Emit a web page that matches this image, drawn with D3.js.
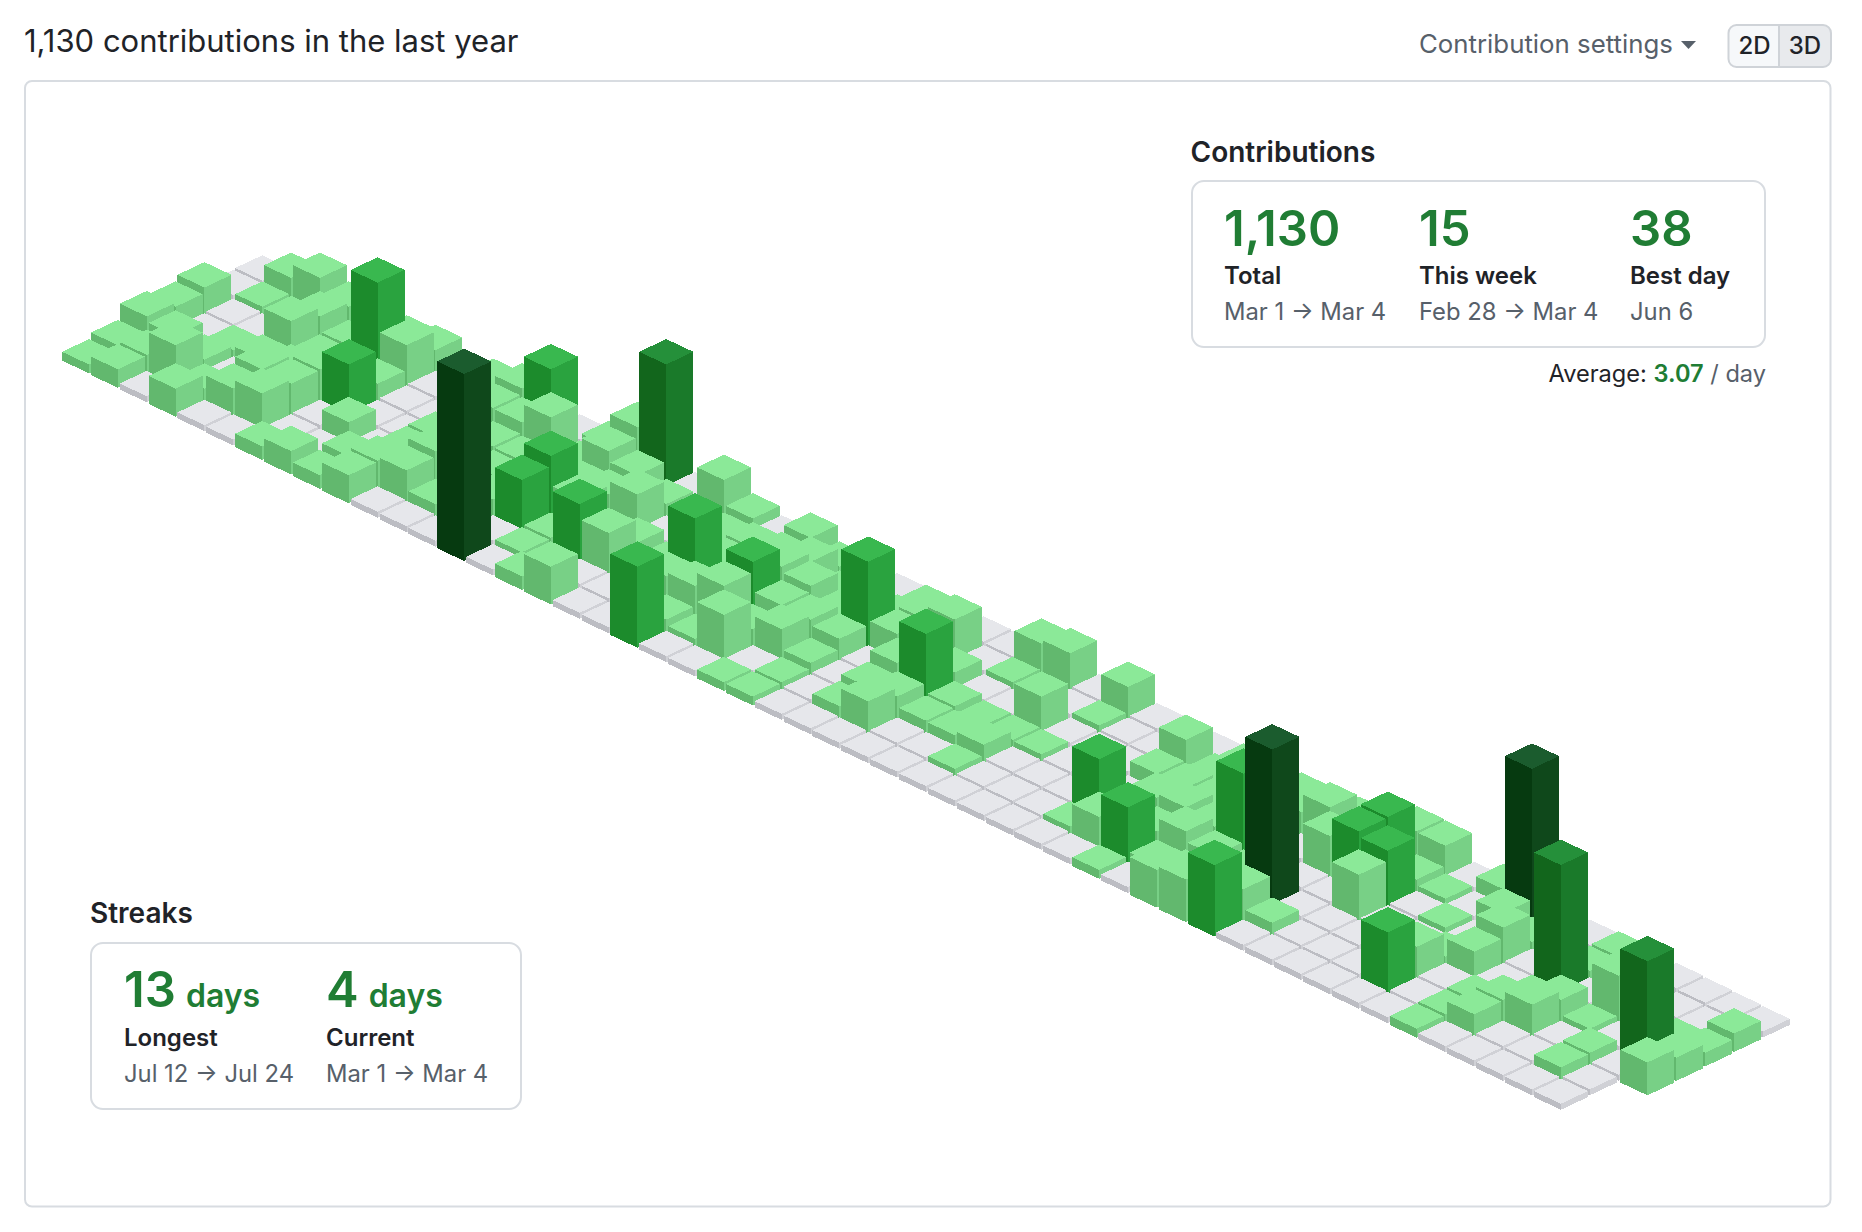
<!DOCTYPE html>
<html>
<head>
<meta charset="utf-8">
<script src="https://cdn.jsdelivr.net/npm/d3@7/dist/d3.min.js"></script>
<style>
html,body{margin:0;padding:0;background:#fff;}
svg{display:block;}
text{font-family:Inter,"Noto Sans",sans-serif;}
</style>
</head>
<body>
<div id="chart"></div>
<script>
// contributions per day: one row per week, Sun..Sat, week of Mar 1 2020 first
const contributionsByWeek = [
 [0,0,5,4,5,2,1],[4,1,0,0,4,3,3],[7,1,0,1,2,8,0],[4,5,7,2,0,2,5],[2,2,2,3,6,5,0],
 [3,18,3,6,6,7,0],[4,8,3,10,0,0,2],[2,0,0,0,4,0,4],[3,2,0,0,0,3,2],[5,4,1,4,4,5,5],
 [12,4,2,3,7,6,0],[0,8,2,2,2,2,0],[2,1,3,2,3,3,0],[9,7,3,12,10,0,38],[25,5,4,6,1,1,0],
 [0,2,7,2,11,1,2],[7,1,0,3,8,0,7],[2,1,2,1,3,0,0],[0,2,2,14,5,0,0],[4,3,3,2,6,2,16],
 [1,5,7,11,9,1,0],[1,1,6,5,3,9,0],[0,1,3,5,6,0,1],[1,2,17,4,2,1,1],[2,5,5,0,0,0,0],
 [0,8,2,5,3,2,0],[0,0,3,14,4,6,0],[6,1,0,2,2,0,0],[7,1,0,1,2,0,0],[0,0,7,1,3,1,0],
 [6,1,0,1,0,0,0],[0,0,0,0,0,0,0],[0,0,0,0,0,0,0],[0,7,3,0,12,1,0],[1,2,3,4,3,6,0],
 [2,2,3,5,3,11,1],[1,2,2,4,6,2,0],[1,4,2,18,4,3,7],[2,8,0,2,3,3,8],[3,2,8,0,32,6,14],
 [6,12,12,0,0,2,0],[6,2,11,9,0,0,0],[0,1,0,0,0,0,0],[3,0,1,0,0,0,0],[31,4,0,1,6,12,0],
 [0,1,7,5,0,0,0],[0,1,0,0,1,1,1],[1,1,26,1,4,4,0],[0,3,0,4,6,0,0],[0,1,9,1,0,0,0],
 [0,0,0,0,2,2,0],[0,0,1,21,0,0,0],[0,3,2,4,6]
];
const levelThresholds = [1,10,19,29];
const topColors   = ["#e6e7eb","#8be998","#39b84f","#25903a","#1b5c2e"];
const leftColors  = ["#bcbdc3","#62b86e","#1c8b2c","#12661c","#063a10"];
const rightColors = ["#d0d1d6","#78d086","#2aa33f","#1a7a2a","#0f481b"];

const headerTitle = "1,130 contributions in the last year";
const settingsLabel = "Contribution settings";
const contributionStats = [
  {value:"1,130",label:"Total",dates:"Mar 1 → Mar 4"},
  {value:"15",label:"This week",dates:"Feb 28 → Mar 4"},
  {value:"38",label:"Best day",dates:"Jun 6"}
];
const contributionStatX = [1224,1419,1630];
const streakStats = [
  {value:"13",label:"Longest",dates:"Jul 12 → Jul 24"},
  {value:"4",label:"Current",dates:"Mar 1 → Mar 4"}
];
const streakStatX = [124,326];

const W=1862,H=1232;
const svg=d3.select("#chart").append("svg").attr("width",W).attr("height",H).attr("viewBox",[0,0,W,H]);

const borderCol="#d8dce1", green="#207d34", ink="#1f2328", muted="#57606a";

// isometric scales
const xIso=d3.scaleLinear().domain([0,52]).range([262.2,262.2+52*28.86]);
const yIso=d3.scaleLinear().domain([0,52]).range([274,274+52*14.44]);
const hScale=d3.scaleLinear().domain([0,38]).range([4,187]);
const halfW=27, halfH=12.7, floorH=6;
const level=d3.scaleThreshold().domain(levelThresholds).range([0,1,2,3,4]);

const cells=[];
contributionsByWeek.forEach((row,w)=>row.forEach((v,d)=>cells.push({w,d,v})));
cells.sort((a,b)=>(a.w+a.d)-(b.w+b.d));

// panel
svg.append("rect").attr("x",25).attr("y",81).attr("width",1805.5).attr("height",1125.5).attr("rx",7)
  .attr("fill","#fff").attr("stroke",borderCol).attr("stroke-width",2);

const chart=svg.append("g").attr("shape-rendering","crispEdges");
const poly=pts=>d3.line()(pts)+"Z";
const g=chart.selectAll("g").data(cells).join("g");
function geom(c){
  const cx=xIso(c.w-c.d), cy=yIso(c.w+c.d), h=c.v>0?hScale(c.v):floorH;
  return {cx,cy,h};
}
g.append("path").attr("fill",c=>leftColors[level(c.v)]).attr("d",c=>{const {cx,cy,h}=geom(c);
  return poly([[cx-halfW,cy-h],[cx,cy-h+halfH],[cx,cy+halfH],[cx-halfW,cy]]);});
g.append("path").attr("fill",c=>rightColors[level(c.v)]).attr("d",c=>{const {cx,cy,h}=geom(c);
  return poly([[cx,cy-h+halfH],[cx+halfW,cy-h],[cx+halfW,cy],[cx,cy+halfH]]);});
g.append("path").attr("fill",c=>topColors[level(c.v)]).attr("d",c=>{const {cx,cy,h}=geom(c);
  return poly([[cx-halfW,cy-h],[cx,cy-h-halfH],[cx+halfW,cy-h],[cx,cy-h+halfH]]);});

// header
svg.append("text").attr("x",24).attr("y",52).attr("font-size",31).attr("fill",ink).text(headerTitle);
svg.append("text").attr("x",1419).attr("y",53).attr("font-size",25.8).attr("fill",muted).text(settingsLabel);
svg.append("path").attr("d",poly([[1681,41],[1696,41],[1688.5,49]])).attr("fill",muted);
svg.append("path").attr("d","M1735,25 H1779 V67 H1735 a7,7 0 0 1 -7,-7 V32 a7,7 0 0 1 7,-7Z").attr("fill","#f6f8fa");
svg.append("path").attr("d","M1779,25 H1824 a7,7 0 0 1 7,7 V60 a7,7 0 0 1 -7,7 H1779Z").attr("fill","#e8eaed");
svg.append("rect").attr("x",1728.5).attr("y",25).attr("width",102.5).attr("height",42).attr("rx",8).attr("fill","none").attr("stroke","#cfd3d8").attr("stroke-width",2);
svg.append("line").attr("x1",1779).attr("x2",1779).attr("y1",25).attr("y2",67).attr("stroke","#cfd3d8").attr("stroke-width",2);
svg.append("text").attr("x",1754.5).attr("y",54).attr("text-anchor","middle").attr("font-size",24).attr("font-weight",500).attr("fill",ink).text("2D");
svg.append("text").attr("x",1805).attr("y",54).attr("text-anchor","middle").attr("font-size",24).attr("font-weight",500).attr("fill",ink).text("3D");

function statBox(title,tx,ty,bx,by,bw,bh){
  svg.append("text").attr("x",tx).attr("y",ty).attr("font-size",28).attr("font-weight",600).attr("fill",ink).text(title);
  svg.append("rect").attr("x",bx).attr("y",by).attr("width",bw).attr("height",bh).attr("rx",12)
    .attr("fill","#fff").attr("stroke",borderCol).attr("stroke-width",2);
}
statBox("Contributions",1190.5,162,1192,181,573,166);
statBox("Streaks",90,923,91,943,430,166);

const statG=svg.selectAll("g.stat").data(contributionStats).join("g").attr("class","stat");
statG.append("text").attr("x",(d,i)=>contributionStatX[i]).attr("y",246).attr("font-size",49).attr("font-weight",600).attr("fill",green).text(d=>d.value);
statG.append("text").attr("x",(d,i)=>contributionStatX[i]).attr("y",284).attr("font-size",24).attr("font-weight",600).attr("fill",ink).text(d=>d.label);
statG.append("text").attr("x",(d,i)=>contributionStatX[i]).attr("y",320).attr("font-size",23.8).attr("fill",muted).text(d=>d.dates);

const a=svg.append("text").attr("x",1766).attr("y",382).attr("text-anchor","end").attr("font-size",23.6);
a.append("tspan").attr("fill",ink).text("Average: ");
a.append("tspan").attr("fill",green).attr("font-weight",600).text("3.07");
a.append("tspan").attr("fill",muted).text(" / day");

const strG=svg.selectAll("g.streak").data(streakStats).join("g").attr("class","streak");
const nums=strG.append("text").attr("x",(d,i)=>streakStatX[i]).attr("y",1007).attr("font-weight",600).attr("fill",green);
nums.append("tspan").attr("font-size",49).text(d=>d.value);
nums.append("tspan").attr("font-size",32).attr("dx",10).text("days");
strG.append("text").attr("x",(d,i)=>streakStatX[i]).attr("y",1045.5).attr("font-size",24).attr("font-weight",600).attr("fill",ink).text(d=>d.label);
strG.append("text").attr("x",(d,i)=>streakStatX[i]).attr("y",1081.5).attr("font-size",23.8).attr("fill",muted).text(d=>d.dates);
</script>
</body>
</html>
